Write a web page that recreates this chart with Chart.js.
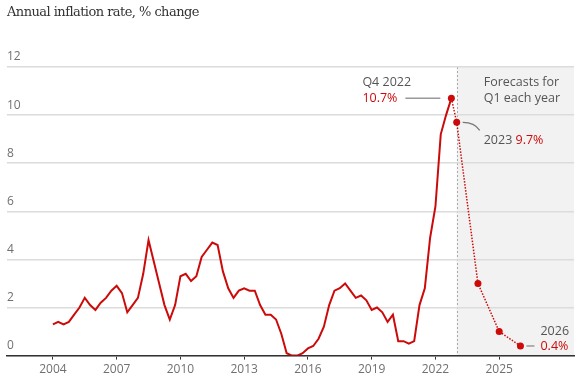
<!DOCTYPE html>
<html>
<head>
<meta charset="utf-8">
<script src="https://cdn.jsdelivr.net/npm/chart.js@4"></script>
<style>
  html, body { margin: 0; padding: 0; background: #fff; }
  #wrap { position: relative; width: 578px; height: 385px; }
  #title { position: absolute; left: 7px; top: 4px; font-family: "DejaVu Serif", serif; font-size: 13px; color: #333; letter-spacing: -0.55px; }
</style>
</head>
<body>
<div id="wrap">
  <div id="title">Annual inflation rate, % change</div>
  <canvas id="chart" width="578" height="385"></canvas>
</div>
<script>
// quarterly CPI, Q1 2004 .. Q4 2022
const startYear = 2004;
const actual = [
  1.3, 1.4, 1.3, 1.4,   // 2004
  1.7, 2.0, 2.4, 2.1,   // 2005
  1.9, 2.2, 2.4, 2.7,   // 2006
  2.9, 2.6, 1.8, 2.1,   // 2007
  2.4, 3.4, 4.8, 3.9,   // 2008
  3.0, 2.1, 1.5, 2.1,   // 2009
  3.3, 3.4, 3.1, 3.3,   // 2010
  4.1, 4.4, 4.7, 4.6,   // 2011
  3.5, 2.8, 2.4, 2.7,   // 2012
  2.8, 2.7, 2.7, 2.1,   // 2013
  1.7, 1.7, 1.5, 0.9,   // 2014
  0.1, 0.0, 0.0, 0.1,   // 2015
  0.3, 0.4, 0.7, 1.2,   // 2016
  2.1, 2.7, 2.8, 3.0,   // 2017
  2.7, 2.4, 2.5, 2.3,   // 2018
  1.9, 2.0, 1.8, 1.4,   // 2019
  1.7, 0.6, 0.6, 0.5,   // 2020
  0.6, 2.1, 2.8, 4.9,   // 2021
  6.2, 9.2, 10.0, 10.7  // 2022
];
const forecastYears = [2023, 2024, 2025, 2026];
const forecastValues = [9.7, 3.0, 1.0, 0.4];
const xTicks = [2004, 2007, 2010, 2013, 2016, 2019, 2022, 2025];
const yTicks = [0, 2, 4, 6, 8, 10, 12];

const RED = '#cc0a0a';
const TEXT = '#555';
const SANS = '"Open Sans", "Noto Sans", sans-serif';

const actualPts = actual.map((v, i) => ({ x: startYear + i / 4, y: v }));
const lastPt = actualPts[actualPts.length - 1];
const forecastPts = [lastPt].concat(forecastYears.map((y, i) => ({ x: y, y: forecastValues[i] })));

const forecastShade = {
  id: 'forecastShade',
  beforeDraw(chart) {
    const { ctx, chartArea, scales } = chart;
    const x0 = scales.x.getPixelForValue(forecastYears[0]);
    ctx.save();
    ctx.fillStyle = '#f2f2f2';
    ctx.fillRect(x0, chartArea.top, chartArea.right - x0, chartArea.bottom - chartArea.top);
    ctx.strokeStyle = '#aaa';
    ctx.lineWidth = 1;
    ctx.setLineDash([2, 2]);
    ctx.beginPath();
    ctx.moveTo(Math.round(x0) + 0.5, chartArea.top);
    ctx.lineTo(Math.round(x0) + 0.5, chartArea.bottom);
    ctx.stroke();
    ctx.restore();
  }
};

const notes = {
  id: 'notes',
  afterDatasetsDraw(chart) {
    const { ctx, scales } = chart;
    const sx = scales.x, sy = scales.y;
    ctx.save();
    ctx.font = '12.5px ' + SANS;
    ctx.textBaseline = 'middle';
    ctx.textAlign = 'left';

    // Q4 2022 peak
    const px = sx.getPixelForValue(lastPt.x), py = sy.getPixelForValue(lastPt.y);
    ctx.fillStyle = TEXT;
    ctx.fillText('Q4 2022', px - 89, py - 16);
    ctx.fillStyle = RED;
    ctx.fillText(lastPt.y.toFixed(1) + '%', px - 89, py);
    ctx.strokeStyle = '#999';
    ctx.lineWidth = 1.5;
    ctx.beginPath();
    ctx.moveTo(px - 46, py);
    ctx.lineTo(px - 11, py);
    ctx.stroke();

    // forecast header
    const fx = sx.getPixelForValue(forecastYears[0]);
    ctx.fillStyle = TEXT;
    ctx.fillText('Forecasts for', fx + 27, py - 16);
    ctx.fillText('Q1 each year', fx + 27, py);

    // 2023 label
    const ax = sx.getPixelForValue(forecastYears[0]), ay = sy.getPixelForValue(forecastValues[0]);
    ctx.strokeStyle = '#777';
    ctx.lineWidth = 1.2;
    ctx.beginPath();
    ctx.moveTo(ax + 6, ay);
    ctx.quadraticCurveTo(ax + 18, ay, ax + 23, ay + 8);
    ctx.stroke();
    ctx.fillStyle = TEXT;
    const lab = forecastYears[0] + ' ';
    ctx.fillText(lab, ax + 27, ay + 18);
    const w = ctx.measureText(lab).width;
    ctx.fillStyle = RED;
    ctx.fillText(forecastValues[0].toFixed(1) + '%', ax + 27 + w, ay + 18);

    // 2026 label
    const n = forecastYears.length - 1;
    const bx = sx.getPixelForValue(forecastYears[n]), by = sy.getPixelForValue(forecastValues[n]);
    ctx.fillStyle = TEXT;
    ctx.fillText(String(forecastYears[n]), bx + 20, by - 15);
    ctx.fillStyle = RED;
    ctx.fillText(forecastValues[n].toFixed(1) + '%', bx + 20, by);
    ctx.strokeStyle = '#999';
    ctx.lineWidth = 1.5;
    ctx.beginPath();
    ctx.moveTo(bx + 6, by);
    ctx.lineTo(bx + 14, by);
    ctx.stroke();
    ctx.restore();
  }
};

new Chart(document.getElementById('chart'), {
  type: 'line',
  data: {
    datasets: [
      {
        data: actualPts,
        borderColor: RED,
        backgroundColor: RED,
        borderWidth: 2,
        tension: 0,
        pointRadius: actualPts.map((p, i) => i === actualPts.length - 1 ? 3.5 : 0),
        pointBorderWidth: 0
      },
      {
        data: forecastPts,
        borderColor: RED,
        backgroundColor: RED,
        borderWidth: 1.5,
        borderDash: [1.5, 1.5],
        tension: 0,
        pointRadius: forecastPts.map((p, i) => i === 0 ? 0 : 3.5),
        pointBorderWidth: 0
      }
    ]
  },
  options: {
    responsive: false,
    animation: false,
    layout: { padding: { left: 7, right: 3, top: 67, bottom: 5 } },
    plugins: { legend: { display: false }, tooltip: { enabled: false } },
    scales: {
      x: {
        type: 'linear',
        min: 2001.84,
        max: 2028.52,
        afterBuildTicks: s => { s.ticks = xTicks.map(v => ({ value: v })); },
        grid: { drawOnChartArea: false, drawTicks: true, tickLength: 4, color: '#333', lineWidth: 1 },
        border: { display: true, color: '#333', width: 1.5 },
        ticks: { color: '#707070', font: { family: SANS, size: 12 }, padding: 3, maxRotation: 0, callback: v => String(v) }
      },
      y: {
        min: 0,
        max: 12,
        afterBuildTicks: s => { s.ticks = yTicks.map(v => ({ value: v })); },
        grid: { drawTicks: false, color: '#dcdcdc', lineWidth: 1.5 },
        border: { display: false },
        ticks: {
          mirror: true,
          padding: 0,
          labelOffset: -10,
          color: '#707070',
          font: { family: SANS, size: 12 }
        }
      }
    }
  },
  plugins: [forecastShade, notes]
});
</script>
</body>
</html>
